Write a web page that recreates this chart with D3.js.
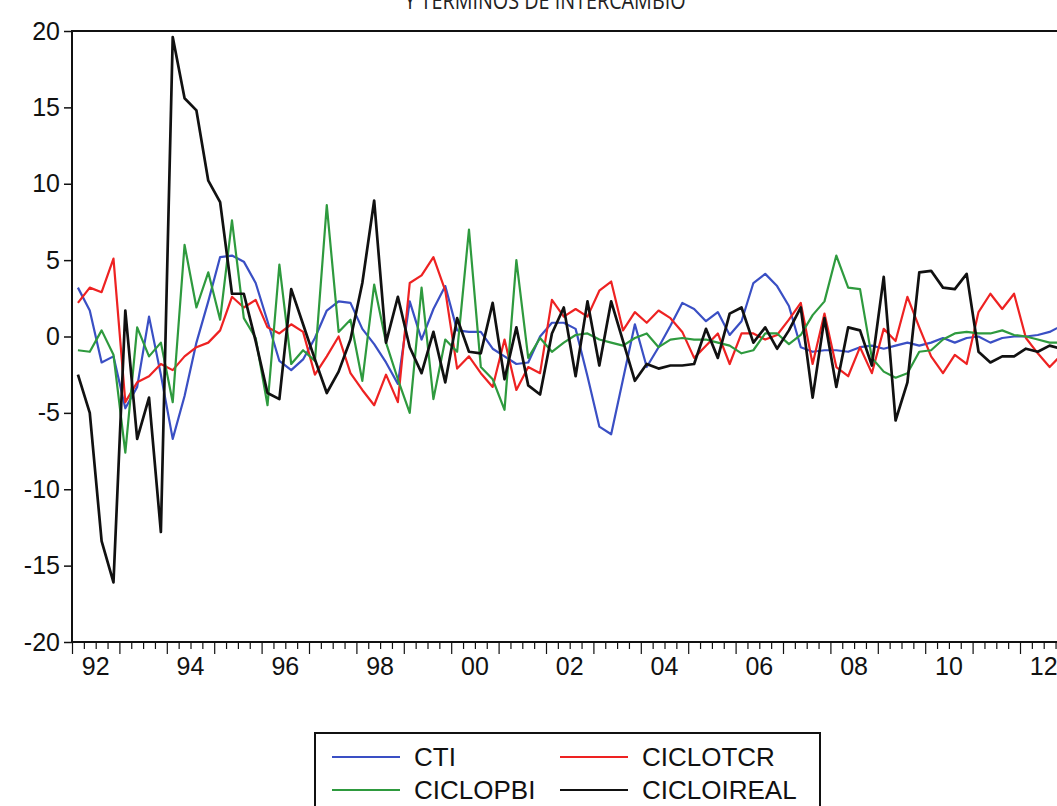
<!DOCTYPE html>
<html>
<head>
<meta charset="utf-8">
<script src="https://cdn.jsdelivr.net/npm/d3@7"></script>
<style>
  html, body { margin: 0; padding: 0; background: #fff; overflow: hidden; }
  svg { display: block; font-family: 'Liberation Sans', Arial, sans-serif; }
</style>
</head>
<body>
<div id="chart"></div>
<script>
const WIDTH = 1057;
const HEIGHT = 806;
const QW = 11.85; // width of one quarter in px
const MARGINS = { TOP: 31, LEFT: 72, BOTTOM: 642 };

// categories: quarters 1992Q1 .. 2012Q4
const years = d3.range(1992, 2013);
const periods = years.flatMap(y => [1, 2, 3, 4].map(q => y + 'Q' + q));
const yearLabels = ['92', '94', '96', '98', '00', '02', '04', '06', '08', '10', '12'];
const yTicks = [-20, -15, -10, -5, 0, 5, 10, 15, 20];

const cti = [
  3.2, 1.7, -1.7, -1.3, -4.7, -3.3, 1.3, -2.5, -6.7, -3.9, -0.4, 2.3,
  5.2, 5.3, 4.9, 3.5, 1.0, -1.6, -2.2, -1.5, -0.1, 1.7, 2.3, 2.2,
  0.5, -0.5, -1.7, -3.1, 2.3, -0.2, 1.8, 3.3, 0.4, 0.3, 0.3, -0.8,
  -1.3, -1.8, -1.7, 0.0, 0.9, 0.9, 0.5, -2.6, -5.9, -6.4, -2.8, 0.8,
  -2.0, -0.7, 0.7, 2.2, 1.8, 1.0, 1.6, 0.1, 1.0, 3.5, 4.1, 3.3,
  2.0, -0.7, -1.0, -0.9, -0.9, -1.0, -0.7, -0.6, -0.8, -0.6, -0.4, -0.6,
  -0.4, -0.1, -0.4, -0.1, 0.0, -0.4, -0.1, 0.0, 0.0, 0.1, 0.3, 0.7
];
const cicloTcr = [
  2.2, 3.2, 2.9, 5.1, -4.3, -3.0, -2.6, -1.8, -2.2, -1.3, -0.7, -0.4,
  0.4, 2.6, 1.9, 2.4, 0.6, 0.2, 0.8, 0.3, -2.5, -1.3, 0.0, -2.4,
  -3.5, -4.5, -2.5, -4.3, 3.5, 4.0, 5.2, 3.0, -2.1, -1.3, -2.4, -3.3,
  -0.2, -3.5, -2.0, -2.4, 2.4, 1.3, 1.8, 1.3, 3.0, 3.6, 0.4, 1.6,
  0.9, 1.7, 1.2, 0.3, -1.4, -0.6, 0.2, -1.8, 0.2, 0.2, -0.2, 0.1,
  1.1, 2.2, -1.8, 1.5, -2.0, -2.6, -0.7, -2.4, 0.5, -0.3, 2.6, 0.6,
  -1.3, -2.4, -1.2, -1.8, 1.6, 2.8, 1.8, 2.8, -0.1, -1.1, -2.0, -1.2
];
const cicloPbi = [
  -0.9, -1.0, 0.4, -1.2, -7.6, 0.6, -1.3, -0.4, -4.3, 6.0, 1.9, 4.2,
  1.1, 7.6, 1.2, -0.1, -4.5, 4.7, -1.8, -0.9, -1.6, 8.6, 0.3, 1.1,
  -2.9, 3.4, -0.4, -2.8, -5.0, 3.2, -4.1, -0.2, -1.0, 7.0, -2.0, -2.8,
  -4.8, 5.0, -1.4, -0.1, -1.0, -0.4, 0.1, 0.2, -0.2, -0.4, -0.6, -0.1,
  0.2, -0.7, -0.2, -0.1, -0.2, -0.2, -0.4, -0.6, -1.1, -0.9, 0.2, 0.2,
  -0.5, 0.1, 1.4, 2.3, 5.3, 3.2, 3.1, -1.4, -2.3, -2.7, -2.4, -1.0,
  -0.9, -0.2, 0.2, 0.3, 0.2, 0.2, 0.4, 0.1, 0.0, -0.2, -0.4, -0.4
];
const cicloIreal = [
  -2.5, -5.0, -13.4, -16.1, 1.7, -6.7, -4.0, -12.8, 19.6, 15.6, 14.8, 10.2,
  8.8, 2.8, 2.8, -0.3, -3.7, -4.1, 3.1, 0.8, -1.5, -3.7, -2.3, -0.2,
  3.5, 8.9, -0.4, 2.6, -0.7, -2.4, 0.3, -3.0, 1.2, -1.0, -1.1, 2.2,
  -2.8, 0.6, -3.2, -3.8, 0.2, 1.9, -2.6, 2.3, -1.9, 2.3, -0.3, -2.9,
  -1.8, -2.1, -1.9, -1.9, -1.8, 0.5, -1.4, 1.5, 1.9, -0.4, 0.6, -0.8,
  0.4, 1.9, -4.0, 1.2, -3.3, 0.6, 0.4, -1.9, 3.9, -5.5, -3.0, 4.2,
  4.3, 3.2, 3.1, 4.1, -1.0, -1.7, -1.3, -1.3, -0.8, -1.0, -0.6, -0.8
];

const seriesNames = ['CTI', 'CICLOTCR', 'CICLOPBI', 'CICLOIREAL'];
const seriesColors = ['#3a4fc4', '#ee2222', '#2e9a3e', '#111111'];
const seriesData = [cti, cicloTcr, cicloPbi, cicloIreal];

let svg = d3.select('#chart')
  .append('svg')
  .attr('width', WIDTH)
  .attr('height', HEIGHT);

// scales
let xScale = d3.scaleLinear()
  .domain([0, periods.length])
  .range([MARGINS.LEFT, MARGINS.LEFT + periods.length * QW]);

let yScale = d3.scaleLinear()
  .domain([-20, 20])
  .range([MARGINS.BOTTOM, MARGINS.TOP]);

// title (cut at the top of the picture, as in the source)
svg.append('text')
  .attr('x', 545)
  .attr('y', 9)
  .attr('text-anchor', 'middle')
  .attr('font-family', "'Open Sans', sans-serif")
  .attr('font-size', 23)
  .attr('transform', 'translate(545,0) scale(0.86,1) translate(-545,0)')
  .attr('fill', '#222')
  .text('Y TÉRMINOS DE INTERCAMBIO');

// series lines
let line = d3.line()
  .x((d, i) => xScale(i + 0.5))
  .y(d => yScale(d));

seriesData.forEach((s, k) => {
  svg.append('path')
    .datum(s)
    .attr('fill', 'none')
    .attr('stroke', seriesColors[k])
    .attr('stroke-width', k === 3 ? 2.7 : 2.2)
    .attr('stroke-linejoin', 'round')
    .attr('d', line);
});

// frame
svg.append('path')
  .attr('fill', 'none')
  .attr('stroke', '#111')
  .attr('stroke-width', 2)
  .attr('d', `M${xScale(periods.length)},${MARGINS.TOP}H${MARGINS.LEFT}V${MARGINS.BOTTOM}H${xScale(periods.length)}`);

// y axis
let yAxis = d3.axisLeft(yScale)
  .tickValues(yTicks)
  .tickSize(8)
  .tickPadding(4)
  .tickFormat(d => String(d));

let yG = svg.append('g')
  .attr('transform', `translate(${MARGINS.LEFT}, 0)`)
  .call(yAxis);
yG.select('.domain').remove();
yG.selectAll('line').attr('stroke', '#111').attr('stroke-width', 1.5);
yG.selectAll('text')
  .attr('font-size', 25)
  .attr('fill', '#111')
  .attr('font-family', "'Liberation Sans', Arial, sans-serif");

// x axis: quarter ticks, longer at year boundaries
let xAxis = d3.axisBottom(xScale)
  .tickValues(d3.range(0, periods.length + 1))
  .tickSize(7)
  .tickFormat('');

let xG = svg.append('g')
  .attr('transform', `translate(0, ${MARGINS.BOTTOM})`)
  .call(xAxis);
xG.select('.domain').remove();
xG.selectAll('.tick line')
  .attr('stroke', '#111')
  .attr('stroke-width', 1.2)
  .attr('y2', d => (d % 4 === 0 ? 12 : 7));

svg.append('g')
  .selectAll('text')
  .data(yearLabels)
  .enter()
  .append('text')
  .attr('x', (d, i) => xScale(i * 8 + 2))
  .attr('y', 675)
  .attr('text-anchor', 'middle')
  .attr('font-size', 25)
  .attr('fill', '#111')
  .text(d => d);

// legend
let legend = svg.append('g');
legend.append('rect')
  .attr('x', 315)
  .attr('y', 733)
  .attr('width', 505)
  .attr('height', 90)
  .attr('fill', '#fff')
  .attr('stroke', '#111')
  .attr('stroke-width', 2);

let legendPos = [[332, 757], [560, 757], [332, 790], [560, 790]];
seriesNames.forEach((name, k) => {
  let [lx, ly] = legendPos[k];
  legend.append('line')
    .attr('x1', lx)
    .attr('x2', lx + 68)
    .attr('y1', ly)
    .attr('y2', ly)
    .attr('stroke', seriesColors[k])
    .attr('stroke-width', 2);
  legend.append('text')
    .attr('x', lx + 82)
    .attr('y', ly + 9)
    .attr('font-size', 26)
    .attr('fill', '#111')
    .text(name);
});
</script>
</body>
</html>
